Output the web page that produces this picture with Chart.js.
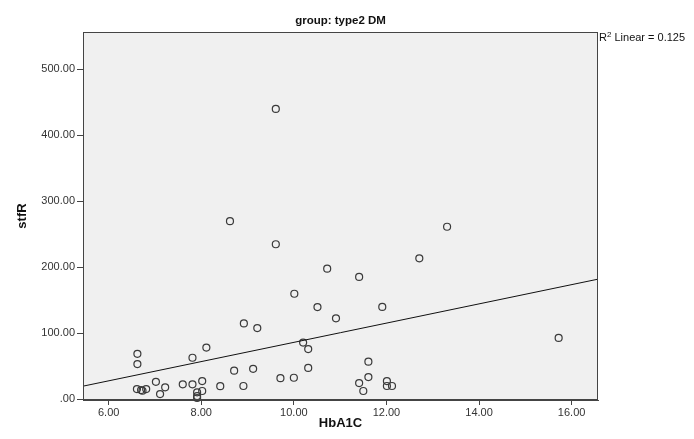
<!DOCTYPE html>
<html>
<head>
<meta charset="utf-8">
<script src="https://cdn.jsdelivr.net/npm/chart.js@4/dist/chart.umd.min.js"></script>
<style>
html,body{margin:0;padding:0;background:#fff;}
canvas{display:block;}
</style>
</head>
<body>
<canvas id="c" width="694" height="439"></canvas>
<script>
const chartTitle = 'group: type2 DM';
const xTitle = 'HbA1C';
const yTitle = 'stfR';
const r2Value = '0.125';

const hba1c = [6.62,6.62,6.61,6.70,6.73,6.81,7.02,7.11,7.22,7.60,7.81,7.81,7.91,7.91,7.91,8.02,8.02,8.11,8.41,8.62,8.71,8.91,8.92,9.12,9.21,9.61,9.61,9.71,10.00,10.01,10.20,10.31,10.31,10.51,10.72,10.91,11.41,11.41,11.50,11.61,11.61,11.91,12.01,12.01,12.12,12.71,13.31,15.72];
const stfr  = [69,53.5,15.5,14,13,15.6,26.5,8,18.2,22.8,22.7,63,10.6,5,2,27.7,12.6,78.5,20,270,43.4,20.2,115,46.2,108,440,235,32,32.7,160,86,76.2,47.6,139.8,198,122.7,185.5,24.7,12.6,57,33.8,140,27.7,20.2,20.2,213.7,261.5,93];

const xTicks = [6,8,10,12,14,16];
const yTicks = [0,100,200,300,400,500];
const xMin = 5.445, xMax = 16.57;
const yMin = -1, yMax = 556.6;

// least-squares fit from the data
const n = hba1c.length;
const mx = hba1c.reduce((a,b)=>a+b,0)/n;
const my = stfr.reduce((a,b)=>a+b,0)/n;
let sxy=0, sxx=0;
for(let i=0;i<n;i++){ sxy += (hba1c[i]-mx)*(stfr[i]-my); sxx += (hba1c[i]-mx)**2; }
const slope = sxy/sxx, intercept = my - slope*mx;
const fitLine = [xMin, xMax].map(x=>({x:x, y:intercept+slope*x}));

const points = hba1c.map((x,i)=>({x:x, y:stfr[i]}));

const FONT = "Arial, 'Liberation Sans', sans-serif";

const frame = {
  id:'frame',
  beforeDraw(chart){
    const a = chart.chartArea, ctx = chart.ctx;
    ctx.save();
    ctx.fillStyle = '#f0f0f0';
    ctx.fillRect(a.left, a.top, a.right-a.left, a.bottom-a.top);
    ctx.restore();
  },
  afterDraw(chart){
    const a = chart.chartArea, ctx = chart.ctx;
    ctx.save();
    ctx.strokeStyle = '#444';
    ctx.lineWidth = 1;
    ctx.strokeRect(a.left+0.5, a.top+0.5, a.right-a.left-1, a.bottom-a.top-1);
    ctx.fillStyle = '#111';
    ctx.textAlign = 'center';
    ctx.textBaseline = 'middle';
    ctx.font = 'bold 11.5px ' + FONT;
    ctx.fillText(chartTitle, (a.left+a.right)/2, 21);
    ctx.font = 'bold 13px ' + FONT;
    ctx.fillText(xTitle, (a.left+a.right)/2, 423);
    ctx.save();
    ctx.translate(22, (a.top+a.bottom)/2);
    ctx.rotate(-Math.PI/2);
    ctx.fillText(yTitle, 0, 0);
    ctx.restore();
    // R2 label
    ctx.textAlign = 'left';
    ctx.textBaseline = 'alphabetic';
    ctx.font = '11px ' + FONT;
    let x = a.right + 1, y = 41;
    ctx.fillText('R', x, y);
    x += ctx.measureText('R').width;
    ctx.font = '8px ' + FONT;
    ctx.fillText('2', x, y-4);
    x += ctx.measureText('2').width;
    ctx.font = '11px ' + FONT;
    ctx.fillText(' Linear = ' + r2Value, x, y);
    ctx.restore();
  }
};

new Chart(document.getElementById('c'), {
  type:'scatter',
  data:{
    datasets:[
      {
        type:'line',
        data: fitLine,
        borderColor:'#111',
        borderWidth:1,
        pointRadius:0,
        fill:false,
        clip:false
      },
      {
        data: points,
        pointStyle:'circle',
        pointRadius:3.5,
        pointHoverRadius:3.5,
        borderColor:'#3a3a3a',
        borderWidth:1.2,
        backgroundColor:'rgba(0,0,0,0)',
        clip:false
      }
    ]
  },
  options:{
    responsive:false,
    animation:false,
    devicePixelRatio:1,
    layout:{padding:{left:0, right:96, top:32, bottom:0}},
    plugins:{legend:{display:false}, tooltip:{enabled:false}, title:{display:false}},
    scales:{
      x:{
        type:'linear', min:xMin, max:xMax,
        afterBuildTicks(s){ s.ticks = xTicks.map(v=>({value:v})); },
        afterFit(s){ s.height = 39; },
        ticks:{ callback:v=>Number(v).toFixed(2), font:{size:11, family:FONT}, color:'#333', padding:1, maxRotation:0, autoSkip:false },
        grid:{ drawOnChartArea:false, drawTicks:true, tickLength:5, color:'#444' },
        border:{ display:true, color:'#444' }
      },
      y:{
        type:'linear', min:yMin, max:yMax,
        afterBuildTicks(s){ s.ticks = yTicks.map(v=>({value:v})); },
        afterFit(s){ s.width = 83; },
        ticks:{ callback:v=>{ const t = Number(v).toFixed(2); return t.startsWith('0') ? t.slice(1) : t; }, font:{size:11, family:FONT}, color:'#333', padding:2, autoSkip:false },
        grid:{ drawOnChartArea:false, drawTicks:true, tickLength:6, color:'#444' },
        border:{ display:true, color:'#444' }
      }
    }
  },
  plugins:[frame]
});
</script>
</body>
</html>
